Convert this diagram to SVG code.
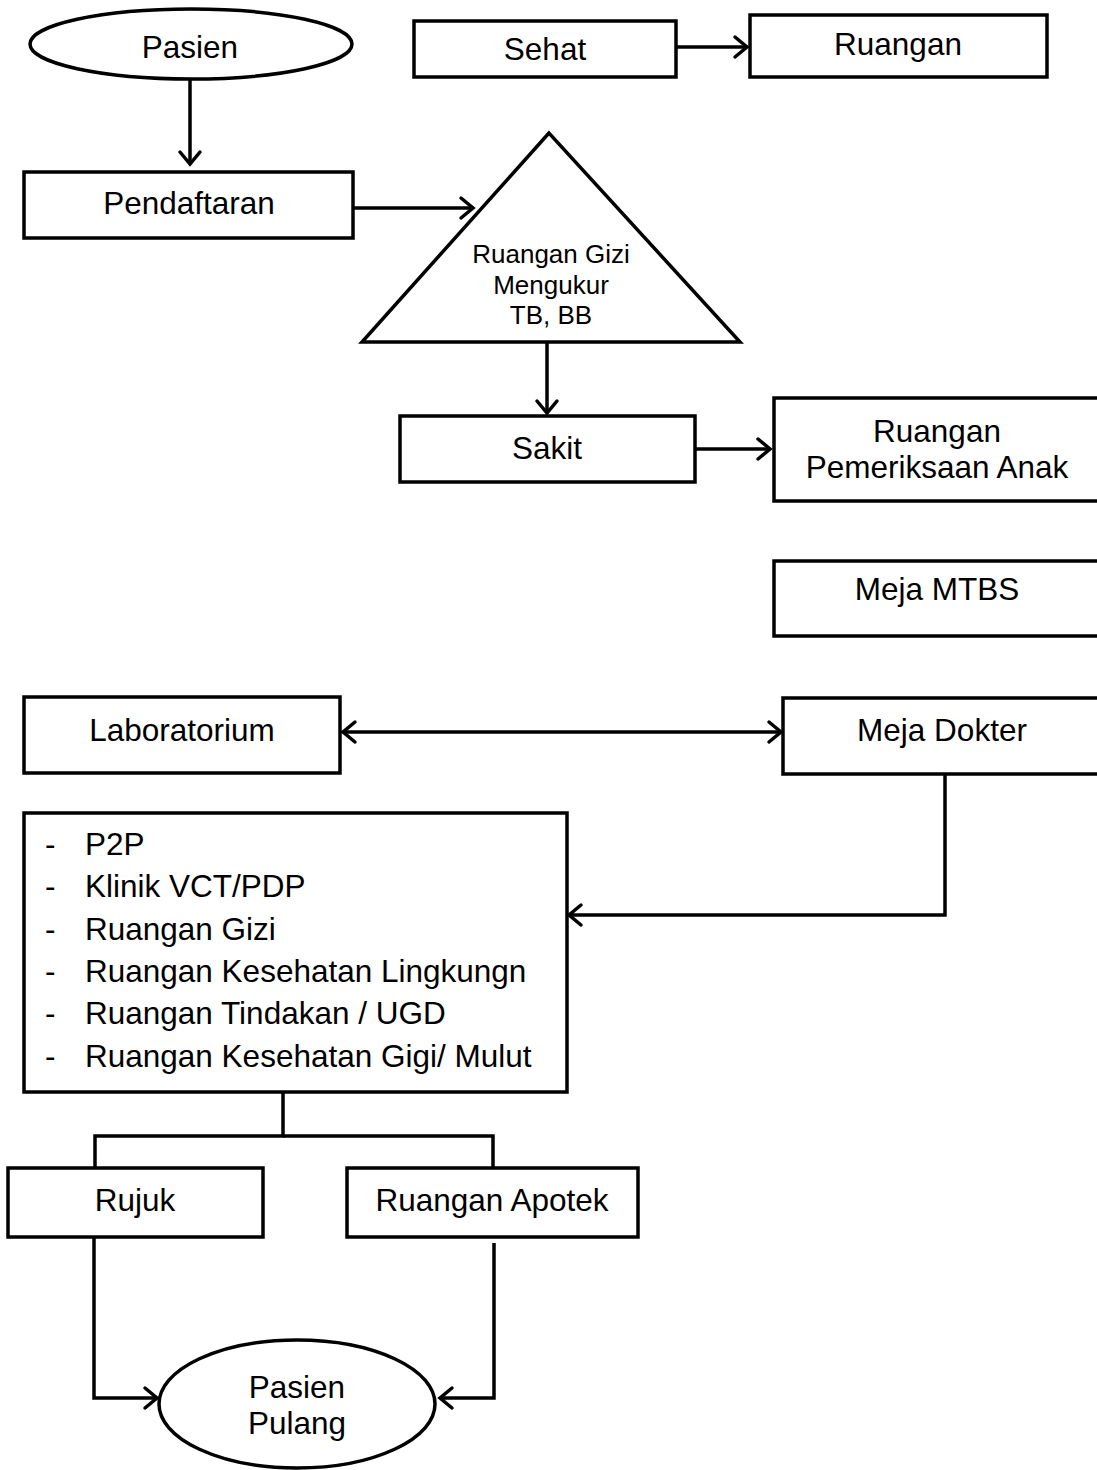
<svg xmlns="http://www.w3.org/2000/svg" width="1097" height="1470" viewBox="0 0 1097 1470">
<style>
.b{fill:#fff;stroke:#000;stroke-width:3.5}
.t{font-family:"Liberation Sans",Arial,sans-serif;font-size:31.5px;fill:#000;text-anchor:middle}
.s{font-size:26px}
.l{text-anchor:start}
.c{fill:none;stroke:#000;stroke-width:3.5}
</style>
<defs>
<marker id="ah" viewBox="0 0 14 22" refX="13" refY="11" markerWidth="14" markerHeight="22" markerUnits="userSpaceOnUse" orient="auto-start-reverse" overflow="visible">
<path d="M1,1 L13,11 L1,21" fill="none" stroke="#000" stroke-width="3.5" stroke-linecap="round" stroke-linejoin="miter"/>
</marker>
</defs>
<rect width="1097" height="1470" fill="#fff"/>
<g id="connectors">
<line class="c" x1="190" y1="79" x2="190" y2="164" marker-end="url(#ah)"/>
<line class="c" x1="353" y1="208" x2="473" y2="208" marker-end="url(#ah)"/>
<line class="c" x1="677" y1="47" x2="747" y2="47" marker-end="url(#ah)"/>
<line class="c" x1="547" y1="343" x2="547" y2="413" marker-end="url(#ah)"/>
<line class="c" x1="695" y1="449" x2="770" y2="449" marker-end="url(#ah)"/>
<line class="c" x1="343" y1="732" x2="781" y2="732" marker-start="url(#ah)" marker-end="url(#ah)"/>
<polyline class="c" points="945,775 945,915 569,915" marker-end="url(#ah)"/>
<polyline class="c" points="283,1093 283,1136 95,1136 95,1168"/>
<polyline class="c" points="283,1136 493,1136 493,1168"/>
<polyline class="c" points="94,1237 94,1398 157,1398" marker-end="url(#ah)"/>
<polyline class="c" points="494,1243 494,1398 440,1398" marker-end="url(#ah)"/>
</g>
<g id="pasien">
<ellipse class="b" cx="191" cy="44" rx="161" ry="35"/>
<text class="t" x="190" y="58">Pasien</text>
</g>
<g id="sehat">
<rect class="b" x="414" y="21" width="262" height="56"/>
<text class="t" x="545" y="60">Sehat</text>
</g>
<g id="ruangan">
<rect class="b" x="750" y="15" width="297" height="62"/>
<text class="t" x="898" y="55">Ruangan</text>
</g>
<g id="pendaftaran">
<rect class="b" x="24" y="172" width="329" height="66"/>
<text class="t" x="189" y="214">Pendaftaran</text>
</g>
<g id="ruangan-gizi">
<polygon class="b" points="549,133 362,342 740,342"/>
<text class="t s" x="551" y="263">Ruangan Gizi</text>
<text class="t s" x="551" y="294">Mengukur</text>
<text class="t s" x="551" y="324">TB, BB</text>
</g>
<g id="sakit">
<rect class="b" x="400" y="416" width="295" height="66"/>
<text class="t" x="547" y="459">Sakit</text>
</g>
<g id="ruangan-pemeriksaan-anak">
<rect class="b" x="774" y="398" width="340" height="103"/>
<text class="t" x="937" y="442">Ruangan</text>
<text class="t" x="937" y="478">Pemeriksaan Anak</text>
</g>
<g id="meja-mtbs">
<rect class="b" x="774" y="561" width="340" height="75"/>
<text class="t" x="937" y="600">Meja MTBS</text>
</g>
<g id="laboratorium">
<rect class="b" x="24" y="697" width="316" height="76"/>
<text class="t" x="182" y="741">Laboratorium</text>
</g>
<g id="meja-dokter">
<rect class="b" x="783" y="698" width="330" height="76"/>
<text class="t" x="942" y="741">Meja Dokter</text>
</g>
<g id="layanan">
<rect class="b" x="24" y="813" width="543" height="279"/>
<text class="t l" x="45" y="855">-</text><text class="t l" x="85" y="855">P2P</text>
<text class="t l" x="45" y="897">-</text><text class="t l" x="85" y="897">Klinik VCT/PDP</text>
<text class="t l" x="45" y="940">-</text><text class="t l" x="85" y="940">Ruangan Gizi</text>
<text class="t l" x="45" y="982">-</text><text class="t l" x="85" y="982">Ruangan Kesehatan Lingkungn</text>
<text class="t l" x="45" y="1024">-</text><text class="t l" x="85" y="1024">Ruangan Tindakan / UGD</text>
<text class="t l" x="45" y="1067">-</text><text class="t l" x="85" y="1067">Ruangan Kesehatan Gigi/ Mulut</text>
</g>
<g id="rujuk">
<rect class="b" x="8" y="1168" width="255" height="69"/>
<text class="t" x="135" y="1211">Rujuk</text>
</g>
<g id="ruangan-apotek">
<rect class="b" x="347" y="1168" width="291" height="69"/>
<text class="t" x="492" y="1211">Ruangan Apotek</text>
</g>
<g id="pasien-pulang">
<ellipse class="b" cx="297" cy="1404" rx="138" ry="64"/>
<text class="t" x="297" y="1398">Pasien</text>
<text class="t" x="297" y="1434">Pulang</text>
</g>
</svg>
